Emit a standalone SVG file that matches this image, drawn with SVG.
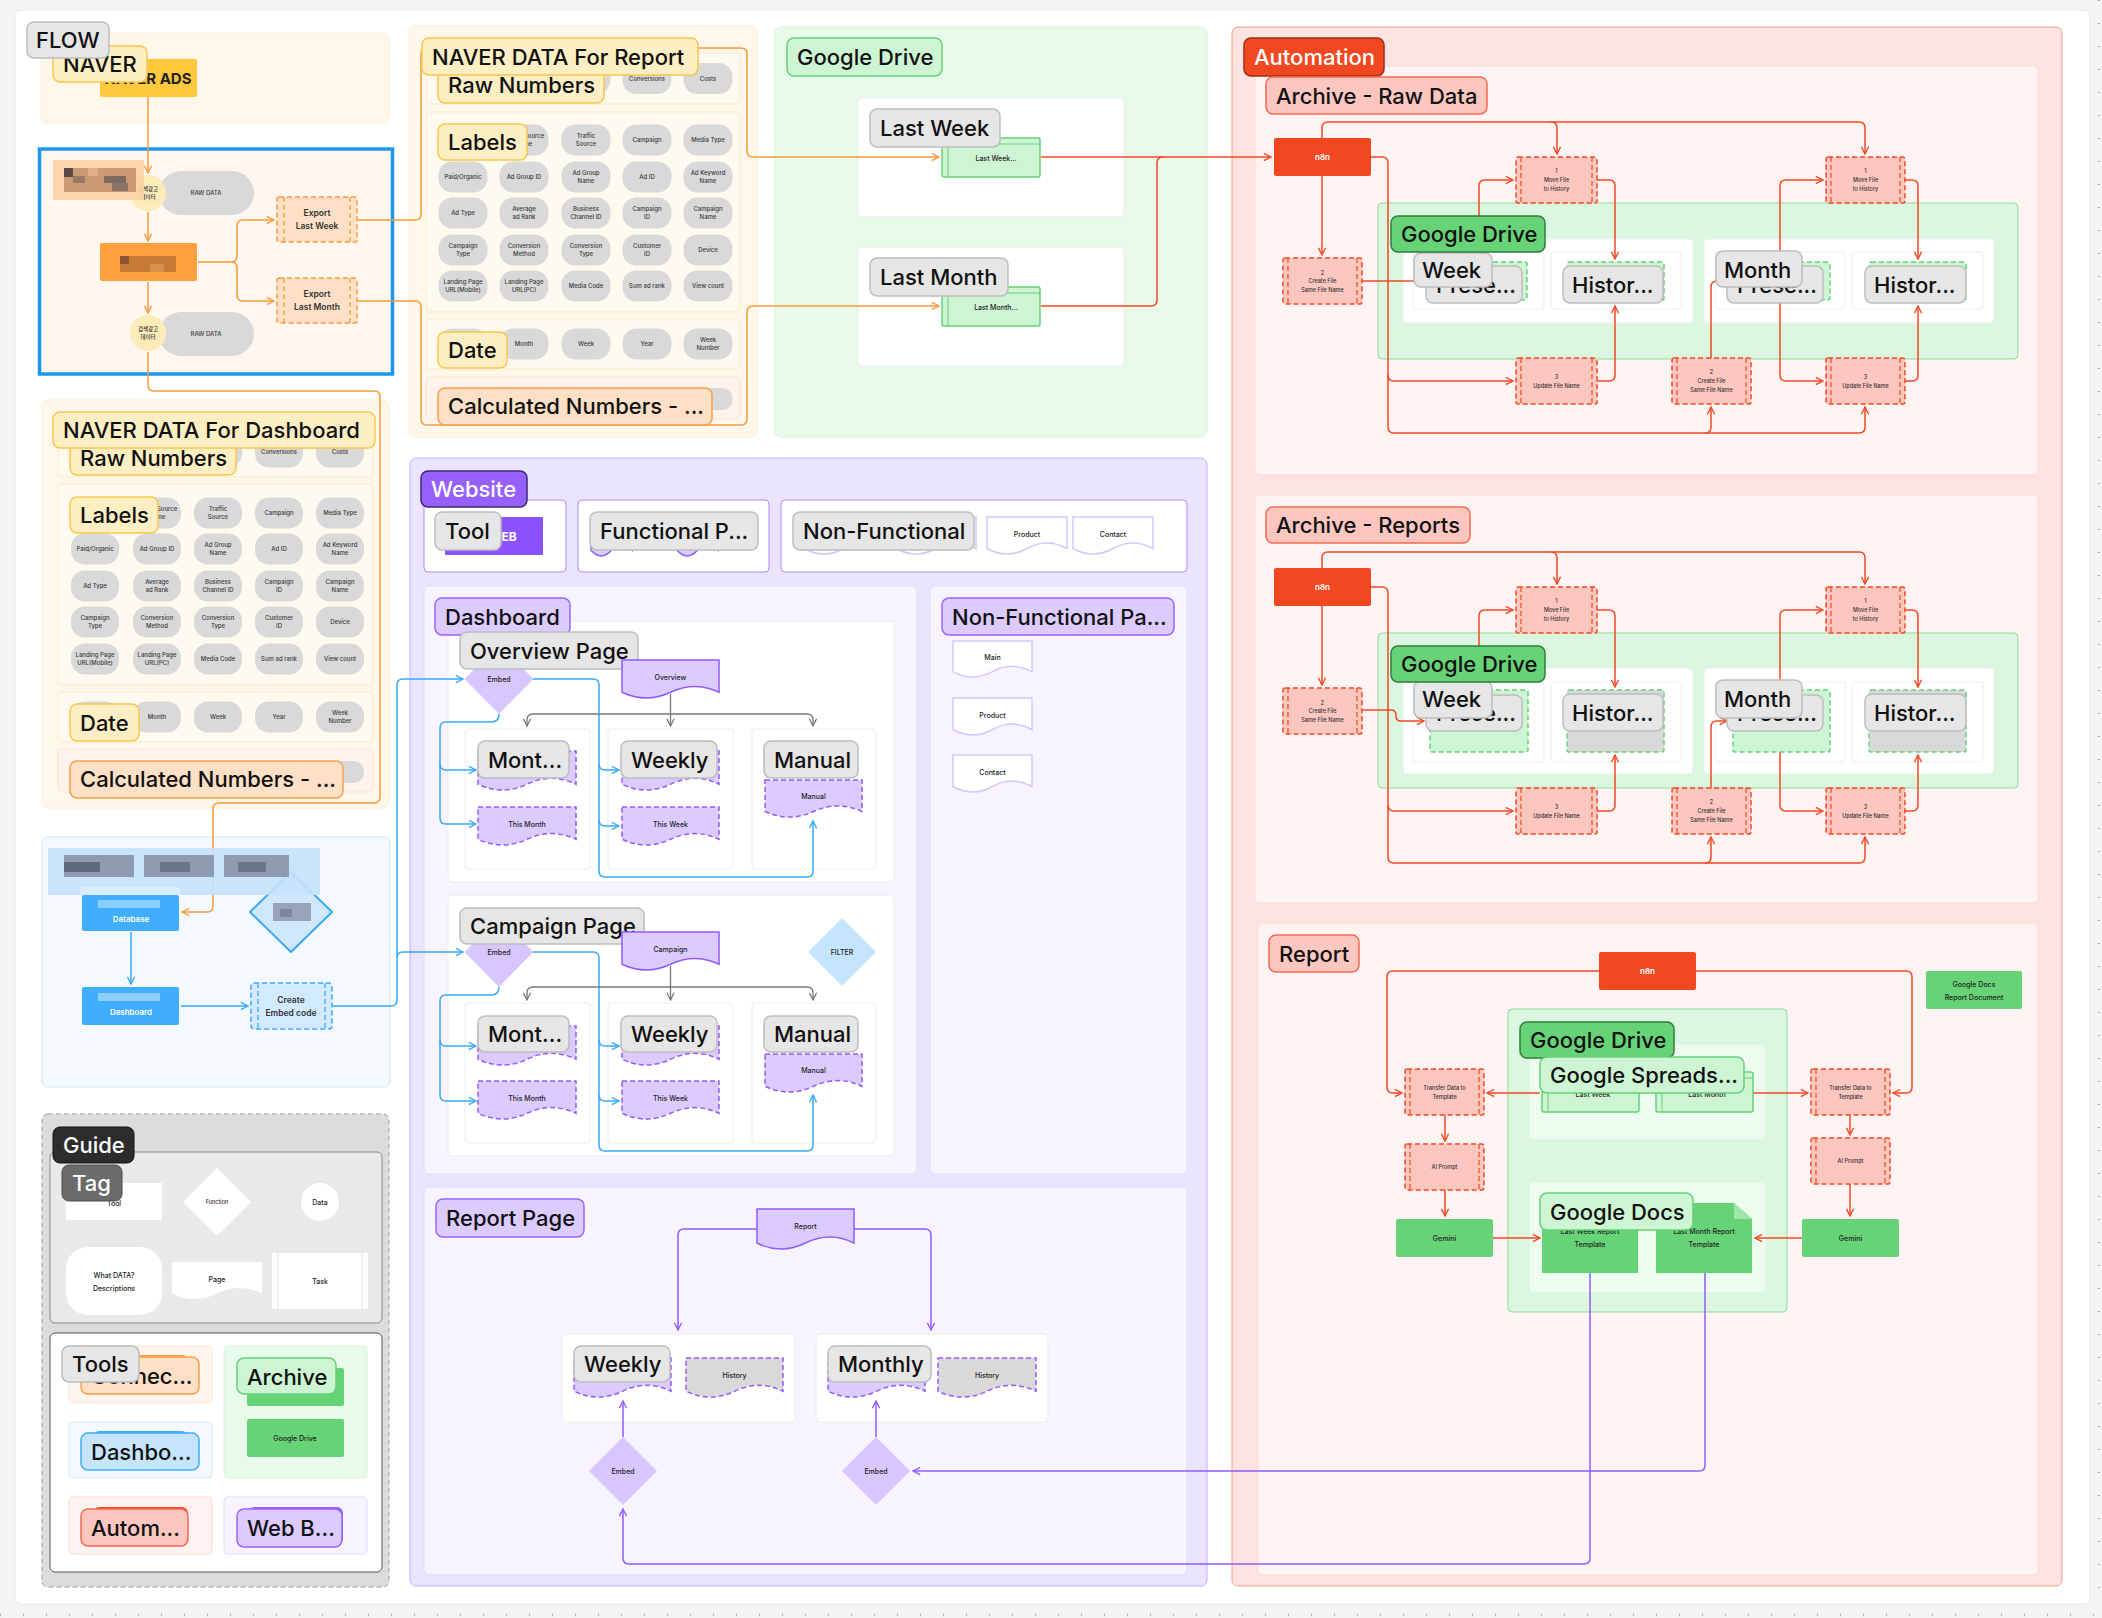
<svg xmlns="http://www.w3.org/2000/svg" width="2102" height="1618" viewBox="0 0 2102 1618">
<defs>
<style>
text{font-family:Inter,"Noto Sans","Liberation Sans","Noto Sans CJK KR",sans-serif}
.L{font-size:22px;font-weight:500;fill:#111}
.W{font-size:22px;font-weight:500;fill:#fff}
.p{fill:#d9d9d9}
.pt{font-size:6px;font-weight:500;fill:#3a3a3a;text-anchor:middle}
.t7{font-size:7px;font-weight:500;fill:#222;text-anchor:middle}
.t8{font-size:8.5px;font-weight:600;fill:#333;text-anchor:middle}
.tw{font-size:8px;font-weight:600;fill:#fff;text-anchor:middle}
.tt{font-size:5.5px;font-weight:500;fill:#333;text-anchor:middle}
.lg{fill:#e6e6e6;stroke:#bdbdbd;stroke-width:1.5}
.ly{fill:#fdefc3;stroke:#f8c84e;stroke-width:1.5}
.lp{fill:#fde0c5;stroke:#f5a04a;stroke-width:1.5}
.lv{fill:#dccbff;stroke:#9966ff;stroke-width:1.5}
.lgl{fill:#cdf5d3;stroke:#66d17a;stroke-width:1.5}
.lgd{fill:#66d377;stroke:#2e7d3a;stroke-width:1.5}
.lrl{fill:#fdc7c0;stroke:#f26a4f;stroke-width:1.5}
.cO{fill:none;stroke:#f89a3a;stroke-width:1.5}
.cR{fill:none;stroke:#f24822;stroke-width:1.5}
.cB{fill:none;stroke:#3aa8f7;stroke-width:1.5}
.cG{fill:none;stroke:#777;stroke-width:1.3}
.cP{fill:none;stroke:#8f5cff;stroke-width:1.5}
.task{fill:#fdc7c0;stroke:#f24822;stroke-width:1.5;stroke-dasharray:5 3}
.tl{fill:none;stroke:#f24822;stroke-width:1.2;stroke-dasharray:5 3}
.exp{fill:#fde0c5;stroke:#f89a3a;stroke-width:1.5;stroke-dasharray:5 3}
.el{fill:none;stroke:#f89a3a;stroke-width:1.2;stroke-dasharray:5 3}
.pg{fill:#dccbff;stroke:#8f5cff;stroke-width:1.5}
.pgd{fill:#dccbff;stroke:#8f5cff;stroke-width:1.5;stroke-dasharray:5 3}
.pgh{fill:#d9d9d9;stroke:#8f5cff;stroke-width:1.5;stroke-dasharray:5 3}
.pgw{fill:#fff;stroke:#d6c6ff;stroke-width:1.5}
.fd{fill:#cdf5d3;stroke:#66d17a;stroke-width:1.5;stroke-dasharray:5 3}
.fg{fill:#d9d9d9;stroke:#66d17a;stroke-width:1.5;stroke-dasharray:5 3}
.wb{fill:#fff;stroke:#ececec}
.sp{fill:#fffaf0;stroke:#fce9c8}
.gr{fill:#66d377}
</style>
<marker id="mO" viewBox="0 0 10 10" refX="9" refY="5" markerWidth="9" markerHeight="9" markerUnits="userSpaceOnUse" orient="auto"><path d="M1 1L9 5L1 9" fill="none" stroke="#f89a3a" stroke-width="1.5"/></marker>
<marker id="mR" viewBox="0 0 10 10" refX="9" refY="5" markerWidth="9" markerHeight="9" markerUnits="userSpaceOnUse" orient="auto"><path d="M1 1L9 5L1 9" fill="none" stroke="#f24822" stroke-width="1.5"/></marker>
<marker id="mB" viewBox="0 0 10 10" refX="9" refY="5" markerWidth="9" markerHeight="9" markerUnits="userSpaceOnUse" orient="auto"><path d="M1 1L9 5L1 9" fill="none" stroke="#3aa8f7" stroke-width="1.5"/></marker>
<marker id="mG" viewBox="0 0 10 10" refX="9" refY="5" markerWidth="9" markerHeight="9" markerUnits="userSpaceOnUse" orient="auto"><path d="M1 1L9 5L1 9" fill="none" stroke="#777" stroke-width="1.4"/></marker>
<marker id="mP" viewBox="0 0 10 10" refX="9" refY="5" markerWidth="9" markerHeight="9" markerUnits="userSpaceOnUse" orient="auto"><path d="M1 1L9 5L1 9" fill="none" stroke="#8f5cff" stroke-width="1.5"/></marker>
</defs>

<g id="background">
<rect width="2102" height="1618" fill="#f4f4f4"/>
<rect x="15" y="10" width="2075" height="1594" rx="6" fill="#fff" stroke="#e9e9e9"/>
<line x1="0" y1="1615" x2="2102" y2="1615" stroke="#b5b5b5" stroke-width="3" stroke-dasharray="1 22"/>
<line x1="2099" y1="0" x2="2099" y2="1604" stroke="#b5b5b5" stroke-width="3" stroke-dasharray="1 22"/>
</g>

<g id="panels">
<rect x="41" y="33" width="348" height="90" rx="6" fill="#fff8ea" stroke="#fdefd3"/>
<rect x="39.5" y="149" width="353" height="225" fill="#fff6ef" stroke="#1a98f0" stroke-width="3.5"/>
<rect x="409" y="26" width="348" height="411" rx="6" fill="#fff8ea" stroke="#fdefd3"/>
<rect class="sp" x="426" y="53" width="314" height="51" rx="4"/>
<rect class="sp" x="426" y="112" width="314" height="200" rx="4"/>
<rect class="sp" x="426" y="319" width="314" height="50" rx="4"/>
<rect x="426" y="377" width="314" height="42" rx="4" fill="#fff3ec" stroke="#fde3cf"/>
<rect x="42" y="400" width="347" height="408" rx="6" fill="#fff8ea" stroke="#fdefd3"/>
<rect class="sp" x="58" y="423" width="315" height="54" rx="4"/>
<rect class="sp" x="58" y="484" width="315" height="201" rx="4"/>
<rect class="sp" x="58" y="692" width="315" height="50" rx="4"/>
<rect x="58" y="749" width="315" height="43" rx="4" fill="#fff3ec" stroke="#fde3cf"/>
<rect x="42" y="837" width="348" height="250" rx="6" fill="#f4f9ff" stroke="#cfe5fb"/>
<rect x="42" y="1114" width="347" height="473" rx="6" fill="#dcdcdc" stroke="#9a9a9a" stroke-dasharray="5 3"/>
<rect x="50" y="1152" width="332" height="171" rx="5" fill="#e9e9e9" stroke="#8a8a8a"/>
<rect x="50" y="1333" width="332" height="239" rx="5" fill="#fff" stroke="#555"/>
<rect x="69" y="1346" width="143" height="57" rx="4" fill="#fff5ee" stroke="#fde3cf"/>
<rect x="69" y="1422" width="143" height="56" rx="4" fill="#f3f9ff" stroke="#d4e8fb"/>
<rect x="69" y="1497" width="143" height="57" rx="4" fill="#fff3f1" stroke="#fcd9d3"/>
<rect x="224" y="1346" width="143" height="132" rx="4" fill="#e8fbea" stroke="#d6f3d9"/>
<rect x="224" y="1497" width="143" height="57" rx="4" fill="#f7f4ff" stroke="#e3d9ff"/>
<rect x="775" y="27" width="432" height="410" rx="6" fill="#e8fbea" stroke="#d6f3d9"/>
<rect class="wb" x="858" y="98" width="266" height="119" rx="4"/>
<rect class="wb" x="858" y="247" width="266" height="119" rx="4"/>
<rect x="410" y="458" width="797" height="1128" rx="6" fill="#ebe4ff" stroke="#c5b1ff"/>
<rect x="424" y="500" width="142" height="72" rx="4" fill="#fff" stroke="#a98bff"/>
<rect x="578" y="500" width="191" height="72" rx="4" fill="#fff" stroke="#a98bff"/>
<rect x="781" y="500" width="406" height="72" rx="4" fill="#fff" stroke="#a98bff"/>
<rect x="424" y="586" width="493" height="588" rx="5" fill="#f7f4ff" stroke="#e3d9ff"/>
<rect x="930" y="586" width="257" height="588" rx="5" fill="#f7f4ff" stroke="#e3d9ff"/>
<rect class="wb" x="448" y="621" width="446" height="261" rx="4"/>
<rect class="wb" x="465" y="729" width="125" height="140" rx="3"/>
<rect class="wb" x="608" y="729" width="125" height="140" rx="3"/>
<rect class="wb" x="752" y="729" width="124" height="140" rx="3"/>
<rect class="wb" x="448" y="895" width="446" height="261" rx="4"/>
<rect class="wb" x="465" y="1003" width="125" height="140" rx="3"/>
<rect class="wb" x="608" y="1003" width="125" height="140" rx="3"/>
<rect class="wb" x="752" y="1003" width="124" height="140" rx="3"/>
<rect x="424" y="1187" width="763" height="388" rx="5" fill="#f7f4ff" stroke="#e3d9ff"/>
<rect class="wb" x="562" y="1334" width="233" height="88" rx="4"/>
<rect class="wb" x="816" y="1334" width="232" height="88" rx="4"/>
<rect x="1232" y="27" width="830" height="1559" rx="6" fill="#fde3e0" stroke="#f59a8c"/>
<rect x="1255" y="66" width="783" height="409" rx="5" fill="#fff4f3" stroke="#fcdad5"/>
<rect x="1378" y="203" width="640" height="156" rx="4" fill="#dcf7df" stroke="#8fdb99"/>
<rect class="wb" x="1403" y="239" width="290" height="84" rx="4"/>
<rect class="wb" x="1704" y="239" width="290" height="84" rx="4"/>
<rect class="wb" x="1413" y="252" width="131" height="57" rx="3"/>
<rect class="wb" x="1551" y="252" width="130" height="57" rx="3"/>
<rect class="wb" x="1715" y="252" width="130" height="57" rx="3"/>
<rect class="wb" x="1852" y="252" width="131" height="57" rx="3"/>
<rect x="1255" y="495" width="783" height="408" rx="5" fill="#fff4f3" stroke="#fcdad5"/>
<rect x="1378" y="633" width="640" height="155" rx="4" fill="#dcf7df" stroke="#8fdb99"/>
<rect class="wb" x="1403" y="668" width="290" height="106" rx="4"/>
<rect class="wb" x="1704" y="668" width="290" height="106" rx="4"/>
<rect class="wb" x="1413" y="682" width="131" height="80" rx="3"/>
<rect class="wb" x="1551" y="682" width="130" height="80" rx="3"/>
<rect class="wb" x="1715" y="682" width="130" height="80" rx="3"/>
<rect class="wb" x="1852" y="682" width="131" height="80" rx="3"/>
<rect x="1258" y="923" width="780" height="652" rx="5" fill="#fff4f3" stroke="#fcdad5"/>
<rect x="1508" y="1009" width="279" height="303" rx="4" fill="#dcf7df" stroke="#8fdb99"/>
<rect x="1529" y="1044" width="237" height="96" rx="4" fill="#ecfdef" stroke="#d8f5dc"/>
<rect x="1529" y="1182" width="237" height="111" rx="4" fill="#ecfdef" stroke="#d8f5dc"/>
</g>

<g id="connectors">
<path class="cO" marker-end="url(#mO)" d="M148 97V173"/>
<path class="cO" marker-end="url(#mO)" d="M148 212V241"/>
<path class="cO" marker-end="url(#mO)" d="M148 282V313"/>
<path class="cO" marker-end="url(#mO)" d="M198 262H231Q237 262 237 256V226Q237 220 243 220H274"/>
<path class="cO" marker-end="url(#mO)" d="M231 262Q237 262 237 268V295Q237 301 243 301H274"/>
<path class="cO" marker-end="url(#mO)" d="M358 220H415Q421 220 421 214V54Q421 48 427 48H741Q747 48 747 54V151Q747 157 753 157H939"/>
<path class="cO" marker-end="url(#mO)" d="M358 301H415Q421 301 421 307V419Q421 425 427 425H741Q747 425 747 419V312Q747 306 753 306H939"/>
<path class="cO" marker-end="url(#mO)" d="M148 352V385Q148 391 154 391H374Q380 391 380 397V797Q380 803 374 803H219Q213 803 213 809V906Q213 912 207 912H182"/>
<path class="cR" marker-end="url(#mR)" d="M1041 157H1271"/>
<path class="cR" d="M1041 306H1151Q1157 306 1157 300V163Q1157 157 1163 157"/>
<path class="cR" marker-end="url(#mR)" d="M1322 138V128Q1322 122 1328 122H1859Q1865 122 1865 128V154"/>
<path class="cR" marker-end="url(#mR)" d="M1551 122Q1557 122 1557 128V154"/>
<path class="cR" marker-end="url(#mR)" d="M1322 176V255"/>
<path class="cR" marker-end="url(#mR)" d="M1371 157H1382Q1388 157 1388 163V427Q1388 433 1394 433H1859Q1865 433 1865 427V407"/>
<path class="cR" marker-end="url(#mR)" d="M1388 375Q1388 381 1394 381H1513"/>
<path class="cR" marker-end="url(#mR)" d="M1705 433Q1711 433 1711 427V407"/>
<path class="cR" d="M1362 281H1414"/>
<path class="cR" marker-end="url(#mR)" d="M1479 216V186Q1479 180 1485 180H1513"/>
<path class="cR" marker-end="url(#mR)" d="M1597 180H1609Q1615 180 1615 186V259"/>
<path class="cR" marker-end="url(#mR)" d="M1597 381H1609Q1615 381 1615 375V306"/>
<path class="cR" marker-end="url(#mR)" d="M1780 251V186Q1780 180 1786 180H1823"/>
<path class="cR" marker-end="url(#mR)" d="M1780 303V375Q1780 381 1786 381H1823"/>
<path class="cR" d="M1711 358V287Q1711 281 1717 281H1727"/>
<path class="cR" marker-end="url(#mR)" d="M1905 180H1912Q1918 180 1918 186V259"/>
<path class="cR" marker-end="url(#mR)" d="M1905 381H1912Q1918 381 1918 375V306"/>
<path class="cR" marker-end="url(#mR)" d="M1322 568V558Q1322 552 1328 552H1859Q1865 552 1865 558V584"/>
<path class="cR" marker-end="url(#mR)" d="M1551 552Q1557 552 1557 558V584"/>
<path class="cR" marker-end="url(#mR)" d="M1322 606V685"/>
<path class="cR" marker-end="url(#mR)" d="M1371 587H1382Q1388 587 1388 593V857Q1388 863 1394 863H1859Q1865 863 1865 857V837"/>
<path class="cR" marker-end="url(#mR)" d="M1388 805Q1388 811 1394 811H1513"/>
<path class="cR" marker-end="url(#mR)" d="M1705 863Q1711 863 1711 857V837"/>
<path class="cR" marker-end="url(#mR)" d="M1363 710H1391Q1396 710 1396 715V716Q1396 721 1401 721H1424"/>
<path class="cR" marker-end="url(#mR)" d="M1479 646V616Q1479 610 1485 610H1513"/>
<path class="cR" marker-end="url(#mR)" d="M1597 610H1609Q1615 610 1615 616V687"/>
<path class="cR" marker-end="url(#mR)" d="M1597 811H1609Q1615 811 1615 805V755"/>
<path class="cR" marker-end="url(#mR)" d="M1780 680V616Q1780 610 1786 610H1823"/>
<path class="cR" marker-end="url(#mR)" d="M1780 752V805Q1780 811 1786 811H1823"/>
<path class="cR" marker-end="url(#mR)" d="M1711 788V727Q1711 721 1717 721H1727"/>
<path class="cR" marker-end="url(#mR)" d="M1905 610H1912Q1918 610 1918 616V687"/>
<path class="cR" marker-end="url(#mR)" d="M1905 811H1912Q1918 811 1918 805V755"/>
<path class="cR" marker-end="url(#mR)" d="M1599 971H1393Q1387 971 1387 977V1087Q1387 1093 1393 1093H1402"/>
<path class="cR" marker-end="url(#mR)" d="M1696 971H1906Q1912 971 1912 977V1087Q1912 1093 1906 1093H1893"/>
<path class="cR" marker-end="url(#mR)" d="M1540 1093H1487"/>
<path class="cR" marker-end="url(#mR)" d="M1753 1093H1808"/>
<path class="cR" marker-end="url(#mR)" d="M1445 1115V1141"/>
<path class="cR" marker-end="url(#mR)" d="M1445 1190V1216"/>
<path class="cR" marker-end="url(#mR)" d="M1850 1115V1135"/>
<path class="cR" marker-end="url(#mR)" d="M1850 1184V1216"/>
<path class="cR" marker-end="url(#mR)" d="M1493 1238H1540"/>
<path class="cR" marker-end="url(#mR)" d="M1802 1238H1755"/>
<path class="cB" marker-end="url(#mB)" d="M131 932V984"/>
<path class="cB" marker-end="url(#mB)" d="M181 1006H248"/>
<path class="cB" marker-end="url(#mB)" d="M333 1006H391Q397 1006 397 1000V685Q397 679 403 679H463"/>
<path class="cB" marker-end="url(#mB)" d="M397 958Q397 952 403 952H463"/>
<path class="cB" marker-end="url(#mB)" d="M499 714Q499 722 491 722H446Q440 722 440 728V818Q440 824 446 824H476"/>
<path class="cB" marker-end="url(#mB)" d="M440 764Q440 770 446 770H476"/>
<path class="cB" marker-end="url(#mB)" d="M533 679H593Q599 679 599 685V871Q599 877 605 877H807Q813 877 813 871V821"/>
<path class="cB" marker-end="url(#mB)" d="M599 764Q599 770 605 770H619"/>
<path class="cB" marker-end="url(#mB)" d="M599 820Q599 826 605 826H619"/>
<path class="cB" marker-end="url(#mB)" d="M499 987Q499 995 491 995H446Q440 995 440 1001V1095Q440 1101 446 1101H476"/>
<path class="cB" marker-end="url(#mB)" d="M440 1040Q440 1046 446 1046H476"/>
<path class="cB" marker-end="url(#mB)" d="M533 952H593Q599 952 599 958V1145Q599 1151 605 1151H807Q813 1151 813 1145V1095"/>
<path class="cB" marker-end="url(#mB)" d="M599 1040Q599 1046 605 1046H619"/>
<path class="cB" marker-end="url(#mB)" d="M599 1095Q599 1101 605 1101H619"/>
<path class="cG" marker-end="url(#mG)" d="M670.5 694V726"/>
<path class="cG" marker-end="url(#mG)" d="M670.5 714H533Q527 714 527 720V726"/>
<path class="cG" marker-end="url(#mG)" d="M670.5 714H807Q813 714 813 720V726"/>
<path class="cG" marker-end="url(#mG)" d="M670.5 966V1000"/>
<path class="cG" marker-end="url(#mG)" d="M670.5 987H533Q527 987 527 993V1000"/>
<path class="cG" marker-end="url(#mG)" d="M670.5 987H807Q813 987 813 993V1000"/>
<path class="cP" marker-end="url(#mP)" d="M757 1229H684Q678 1229 678 1235V1330"/>
<path class="cP" marker-end="url(#mP)" d="M854 1229H925Q931 1229 931 1235V1330"/>
<path class="cP" marker-end="url(#mP)" d="M623 1437V1401"/>
<path class="cP" marker-end="url(#mP)" d="M876 1437V1401"/>
<path class="cP" marker-end="url(#mP)" d="M1705 1273V1465Q1705 1471 1699 1471H913"/>
<path class="cP" marker-end="url(#mP)" d="M1590 1273V1558Q1590 1564 1584 1564H629Q623 1564 623 1558V1509"/>
</g>

<g id="flow-naver">
<g id="naver-ads"><rect x="100" y="59" width="97" height="38" rx="2" fill="#ffc83d"/><text x="148" y="84" font-size="15" font-weight="700" fill="#222" text-anchor="middle">NAVER ADS</text></g>
<g id="naver-label"><rect class="ly" x="53" y="46" width="94" height="36" rx="7"/><text class="L" x="63" y="72">NAVER</text></g>
<g id="flow-label"><rect class="lg" x="27" y="22" width="82" height="36" rx="7"/><text class="L" x="36" y="48">FLOW</text></g>
<g id="raw-data-1"><rect class="p" x="159" y="171" width="95" height="44" rx="22"/><text class="pt" x="206" y="195">RAW DATA</text></g>
<g id="data-circle-1"><circle cx="148" cy="193" r="18" fill="#fdecb8"/><text class="tt" x="148" y="191">검색광고</text><text class="tt" x="148" y="199">데이터</text></g>
<g id="mosaic-1"><rect x="53" y="160" width="91" height="40" fill="#fbd3a5" opacity="0.92"/><rect x="64" y="168" width="72" height="24" fill="#c99a74"/><rect x="64" y="168" width="9" height="9" fill="#5a4a44"/><rect x="73" y="176" width="12" height="7" fill="#9a7a66"/><rect x="104" y="176" width="22" height="7" fill="#7d6a62"/><rect x="112" y="183" width="16" height="8" fill="#8b7366"/><rect x="88" y="168" width="10" height="8" fill="#e0b088"/></g>
<g id="orange-node"><rect x="100" y="243" width="97" height="38" rx="2" fill="#ffa040"/><rect x="120" y="256" width="56" height="16" fill="#c67a36"/><rect x="120" y="256" width="9" height="8" fill="#8e5436"/><rect x="150" y="264" width="14" height="8" fill="#d89050"/></g>
<g id="raw-data-2"><rect class="p" x="159" y="312" width="95" height="44" rx="22"/><text class="pt" x="206" y="336">RAW DATA</text></g>
<g id="data-circle-2"><circle cx="148" cy="333" r="18" fill="#fdecb8"/><text class="tt" x="148" y="331">검색광고</text><text class="tt" x="148" y="339">데이터</text></g>
<g id="export-last-week"><rect class="exp" x="277" y="197" width="80" height="45" rx="2"/><path class="el" d="M284 197V242M350 197V242"/><text class="t8" x="317" y="216">Export</text><text class="t8" x="317" y="229">Last Week</text></g>
<g id="export-last-month"><rect class="exp" x="277" y="278" width="80" height="45" rx="2"/><path class="el" d="M284 278V323M350 278V323"/><text class="t8" x="317" y="297">Export</text><text class="t8" x="317" y="310">Last Month</text></g>
</g>

<g id="naver-data-report">
<g id="r-raw">
<rect class="p" x="438.5" y="63" width="49" height="31" rx="14"/><rect class="p" x="499.5" y="63" width="49" height="31" rx="14"/><rect class="p" x="561.5" y="63" width="49" height="31" rx="14"/>
<rect class="p" x="622.5" y="63" width="49" height="31" rx="14"/><text class="pt" x="647" y="80.5">Conversions</text>
<rect class="p" x="683.5" y="63" width="49" height="31" rx="14"/><text class="pt" x="708" y="80.5">Costs</text>
</g>
<g id="r-labels">
<rect class="p" x="438.5" y="124.5" width="49" height="31" rx="14"/>
<rect class="p" x="499.5" y="124.5" width="49" height="31" rx="14"/><text class="pt" x="524" y="137.5">Traffic Source</text><text class="pt" x="524" y="145.5">Name</text>
<rect class="p" x="561.5" y="124.5" width="49" height="31" rx="14"/><text class="pt" x="586" y="137.5">Traffic</text><text class="pt" x="586" y="145.5">Source</text>
<rect class="p" x="622.5" y="124.5" width="49" height="31" rx="14"/><text class="pt" x="647" y="142">Campaign</text>
<rect class="p" x="683.5" y="124.5" width="49" height="31" rx="14"/><text class="pt" x="708" y="142">Media Type</text>
<rect class="p" x="438.5" y="161.5" width="49" height="31" rx="14"/><text class="pt" x="463" y="179">Paid/Organic</text>
<rect class="p" x="499.5" y="161.5" width="49" height="31" rx="14"/><text class="pt" x="524" y="179">Ad Group ID</text>
<rect class="p" x="561.5" y="161.5" width="49" height="31" rx="14"/><text class="pt" x="586" y="174.5">Ad Group</text><text class="pt" x="586" y="182.5">Name</text>
<rect class="p" x="622.5" y="161.5" width="49" height="31" rx="14"/><text class="pt" x="647" y="179">Ad ID</text>
<rect class="p" x="683.5" y="161.5" width="49" height="31" rx="14"/><text class="pt" x="708" y="174.5">Ad Keyword</text><text class="pt" x="708" y="182.5">Name</text>
<rect class="p" x="438.5" y="197.5" width="49" height="31" rx="14"/><text class="pt" x="463" y="215">Ad Type</text>
<rect class="p" x="499.5" y="197.5" width="49" height="31" rx="14"/><text class="pt" x="524" y="210.5">Average</text><text class="pt" x="524" y="218.5">ad Rank</text>
<rect class="p" x="561.5" y="197.5" width="49" height="31" rx="14"/><text class="pt" x="586" y="210.5">Business</text><text class="pt" x="586" y="218.5">Channel ID</text>
<rect class="p" x="622.5" y="197.5" width="49" height="31" rx="14"/><text class="pt" x="647" y="210.5">Campaign</text><text class="pt" x="647" y="218.5">ID</text>
<rect class="p" x="683.5" y="197.5" width="49" height="31" rx="14"/><text class="pt" x="708" y="210.5">Campaign</text><text class="pt" x="708" y="218.5">Name</text>
<rect class="p" x="438.5" y="234.5" width="49" height="31" rx="14"/><text class="pt" x="463" y="247.5">Campaign</text><text class="pt" x="463" y="255.5">Type</text>
<rect class="p" x="499.5" y="234.5" width="49" height="31" rx="14"/><text class="pt" x="524" y="247.5">Conversion</text><text class="pt" x="524" y="255.5">Method</text>
<rect class="p" x="561.5" y="234.5" width="49" height="31" rx="14"/><text class="pt" x="586" y="247.5">Conversion</text><text class="pt" x="586" y="255.5">Type</text>
<rect class="p" x="622.5" y="234.5" width="49" height="31" rx="14"/><text class="pt" x="647" y="247.5">Customer</text><text class="pt" x="647" y="255.5">ID</text>
<rect class="p" x="683.5" y="234.5" width="49" height="31" rx="14"/><text class="pt" x="708" y="252">Device</text>
<rect class="p" x="438.5" y="270.5" width="49" height="31" rx="14"/><text class="pt" x="463" y="283.5">Landing Page</text><text class="pt" x="463" y="291.5">URL(Mobile)</text>
<rect class="p" x="499.5" y="270.5" width="49" height="31" rx="14"/><text class="pt" x="524" y="283.5">Landing Page</text><text class="pt" x="524" y="291.5">URL(PC)</text>
<rect class="p" x="561.5" y="270.5" width="49" height="31" rx="14"/><text class="pt" x="586" y="288">Media Code</text>
<rect class="p" x="622.5" y="270.5" width="49" height="31" rx="14"/><text class="pt" x="647" y="288">Sum ad rank</text>
<rect class="p" x="683.5" y="270.5" width="49" height="31" rx="14"/><text class="pt" x="708" y="288">View count</text>
</g>
<g id="r-date">
<rect class="p" x="438.5" y="328.5" width="49" height="31" rx="14"/>
<rect class="p" x="499.5" y="328.5" width="49" height="31" rx="14"/><text class="pt" x="524" y="346">Month</text>
<rect class="p" x="561.5" y="328.5" width="49" height="31" rx="14"/><text class="pt" x="586" y="346">Week</text>
<rect class="p" x="622.5" y="328.5" width="49" height="31" rx="14"/><text class="pt" x="647" y="346">Year</text>
<rect class="p" x="683.5" y="328.5" width="49" height="31" rx="14"/><text class="pt" x="708" y="341.5">Week</text><text class="pt" x="708" y="349.5">Number</text>
</g>
<g id="r-calc"><rect class="p" x="622.5" y="388" width="49" height="22" rx="10"/><rect class="p" x="683.5" y="388" width="49" height="22" rx="10"/></g>
<g id="r-label-raw"><rect class="ly" x="438" y="62" width="166" height="41" rx="7"/><text class="L" x="448" y="93">Raw Numbers</text></g>
<g id="r-label-main"><rect class="ly" x="422" y="38" width="276" height="37" rx="7"/><text class="L" x="432" y="65">NAVER DATA For Report</text></g>
<g id="r-label-labels"><rect class="ly" x="438" y="124" width="89" height="36" rx="7"/><text class="L" x="448" y="150">Labels</text></g>
<g id="r-label-date"><rect class="ly" x="438" y="332" width="69" height="36" rx="7"/><text class="L" x="448" y="358">Date</text></g>
<g id="r-label-calc"><rect class="lp" x="438" y="388" width="274" height="37" rx="7"/><text class="L" x="448" y="414">Calculated Numbers - ...</text></g>
</g>

<g id="naver-data-dashboard">
<g id="d-raw">
<rect class="p" x="71" y="436.5" width="48" height="31" rx="14"/><rect class="p" x="133" y="436.5" width="48" height="31" rx="14"/><rect class="p" x="194" y="436.5" width="48" height="31" rx="14"/>
<rect class="p" x="255" y="436.5" width="48" height="31" rx="14"/><text class="pt" x="279" y="454">Conversions</text>
<rect class="p" x="316" y="436.5" width="48" height="31" rx="14"/><text class="pt" x="340" y="454">Costs</text>
</g>
<g id="d-labels">
<rect class="p" x="71" y="497.5" width="48" height="31" rx="14"/>
<rect class="p" x="133" y="497.5" width="48" height="31" rx="14"/><text class="pt" x="157" y="510.5">Traffic Source</text><text class="pt" x="157" y="518.5">Name</text>
<rect class="p" x="194" y="497.5" width="48" height="31" rx="14"/><text class="pt" x="218" y="510.5">Traffic</text><text class="pt" x="218" y="518.5">Source</text>
<rect class="p" x="255" y="497.5" width="48" height="31" rx="14"/><text class="pt" x="279" y="515">Campaign</text>
<rect class="p" x="316" y="497.5" width="48" height="31" rx="14"/><text class="pt" x="340" y="515">Media Type</text>
<rect class="p" x="71" y="533.5" width="48" height="31" rx="14"/><text class="pt" x="95" y="551">Paid/Organic</text>
<rect class="p" x="133" y="533.5" width="48" height="31" rx="14"/><text class="pt" x="157" y="551">Ad Group ID</text>
<rect class="p" x="194" y="533.5" width="48" height="31" rx="14"/><text class="pt" x="218" y="546.5">Ad Group</text><text class="pt" x="218" y="554.5">Name</text>
<rect class="p" x="255" y="533.5" width="48" height="31" rx="14"/><text class="pt" x="279" y="551">Ad ID</text>
<rect class="p" x="316" y="533.5" width="48" height="31" rx="14"/><text class="pt" x="340" y="546.5">Ad Keyword</text><text class="pt" x="340" y="554.5">Name</text>
<rect class="p" x="71" y="570.5" width="48" height="31" rx="14"/><text class="pt" x="95" y="588">Ad Type</text>
<rect class="p" x="133" y="570.5" width="48" height="31" rx="14"/><text class="pt" x="157" y="583.5">Average</text><text class="pt" x="157" y="591.5">ad Rank</text>
<rect class="p" x="194" y="570.5" width="48" height="31" rx="14"/><text class="pt" x="218" y="583.5">Business</text><text class="pt" x="218" y="591.5">Channel ID</text>
<rect class="p" x="255" y="570.5" width="48" height="31" rx="14"/><text class="pt" x="279" y="583.5">Campaign</text><text class="pt" x="279" y="591.5">ID</text>
<rect class="p" x="316" y="570.5" width="48" height="31" rx="14"/><text class="pt" x="340" y="583.5">Campaign</text><text class="pt" x="340" y="591.5">Name</text>
<rect class="p" x="71" y="606.5" width="48" height="31" rx="14"/><text class="pt" x="95" y="619.5">Campaign</text><text class="pt" x="95" y="627.5">Type</text>
<rect class="p" x="133" y="606.5" width="48" height="31" rx="14"/><text class="pt" x="157" y="619.5">Conversion</text><text class="pt" x="157" y="627.5">Method</text>
<rect class="p" x="194" y="606.5" width="48" height="31" rx="14"/><text class="pt" x="218" y="619.5">Conversion</text><text class="pt" x="218" y="627.5">Type</text>
<rect class="p" x="255" y="606.5" width="48" height="31" rx="14"/><text class="pt" x="279" y="619.5">Customer</text><text class="pt" x="279" y="627.5">ID</text>
<rect class="p" x="316" y="606.5" width="48" height="31" rx="14"/><text class="pt" x="340" y="624">Device</text>
<rect class="p" x="71" y="643.5" width="48" height="31" rx="14"/><text class="pt" x="95" y="656.5">Landing Page</text><text class="pt" x="95" y="664.5">URL(Mobile)</text>
<rect class="p" x="133" y="643.5" width="48" height="31" rx="14"/><text class="pt" x="157" y="656.5">Landing Page</text><text class="pt" x="157" y="664.5">URL(PC)</text>
<rect class="p" x="194" y="643.5" width="48" height="31" rx="14"/><text class="pt" x="218" y="661">Media Code</text>
<rect class="p" x="255" y="643.5" width="48" height="31" rx="14"/><text class="pt" x="279" y="661">Sum ad rank</text>
<rect class="p" x="316" y="643.5" width="48" height="31" rx="14"/><text class="pt" x="340" y="661">View count</text>
</g>
<g id="d-date">
<rect class="p" x="71" y="701.5" width="48" height="31" rx="14"/>
<rect class="p" x="133" y="701.5" width="48" height="31" rx="14"/><text class="pt" x="157" y="719">Month</text>
<rect class="p" x="194" y="701.5" width="48" height="31" rx="14"/><text class="pt" x="218" y="719">Week</text>
<rect class="p" x="255" y="701.5" width="48" height="31" rx="14"/><text class="pt" x="279" y="719">Year</text>
<rect class="p" x="316" y="701.5" width="48" height="31" rx="14"/><text class="pt" x="340" y="714.5">Week</text><text class="pt" x="340" y="722.5">Number</text>
</g>
<g id="d-calc"><rect class="p" x="255" y="761" width="48" height="22" rx="10"/><rect class="p" x="316" y="761" width="48" height="22" rx="10"/></g>
<g id="d-label-raw"><rect class="ly" x="70" y="436" width="166" height="39" rx="7"/><text class="L" x="80" y="466">Raw Numbers</text></g>
<g id="d-label-main"><rect class="ly" x="53" y="412" width="322" height="36" rx="7"/><text class="L" x="63" y="438">NAVER DATA For Dashboard</text></g>
<g id="d-label-labels"><rect class="ly" x="70" y="497" width="88" height="36" rx="7"/><text class="L" x="80" y="523">Labels</text></g>
<g id="d-label-date"><rect class="ly" x="70" y="704" width="69" height="37" rx="7"/><text class="L" x="80" y="731">Date</text></g>
<g id="d-label-calc"><rect class="lp" x="70" y="761" width="273" height="37" rx="7"/><text class="L" x="80" y="787">Calculated Numbers - ...</text></g>
</g>

<g id="dashboard-tool">
<g id="database"><rect x="82" y="895" width="97" height="36" rx="2" fill="#40aefc"/><rect x="98" y="900" width="62" height="8" fill="#8ccfff"/><text class="tw" x="131" y="922">Database</text></g>
<g id="dashboard-node"><rect x="82" y="987" width="97" height="38" rx="2" fill="#40aefc"/><rect x="98" y="993" width="62" height="8" fill="#8ccfff"/><text class="tw" x="131" y="1015">Dashboard</text></g>
<g id="blue-diamond"><polygon points="291,872 332,912 291,952 250,912" fill="#cfe8ff" stroke="#3aa8f7" stroke-width="2" stroke-linejoin="round"/><rect x="273" y="903" width="38" height="18" fill="#9aa4b8"/><rect x="280" y="909" width="12" height="8" fill="#7d879c"/></g>
<g id="mosaic-2"><rect x="48" y="848" width="272" height="47" fill="#c5e2fb" opacity="0.92"/><rect x="64" y="855" width="70" height="22" fill="#8f9bb0"/><rect x="64" y="862" width="36" height="10" fill="#5f6a80"/><rect x="144" y="855" width="70" height="22" fill="#8f9bb0"/><rect x="160" y="862" width="30" height="10" fill="#6c768b"/><rect x="224" y="855" width="65" height="22" fill="#8f9bb0"/><rect x="238" y="862" width="28" height="10" fill="#6c768b"/><rect x="80" y="887" width="100" height="8" fill="#d8ecfc"/></g>
<g id="create-embed"><rect x="251" y="983" width="81" height="46" rx="3" fill="#d2eaff" stroke="#3aa8f7" stroke-width="1.5" stroke-dasharray="5 3"/><path d="M258 983V1029M325 983V1029" fill="none" stroke="#3aa8f7" stroke-width="1.2" stroke-dasharray="5 3"/><text class="t8" x="291" y="1003">Create</text><text class="t8" x="291" y="1016">Embed code</text></g>
</g>

<g id="guide">
<g id="guide-tool"><rect x="66" y="1183" width="96" height="37" fill="#fff"/><text class="t7" x="114" y="1206">Tool</text></g>
<g id="guide-function"><polygon points="217,1168 251,1202 217,1236 183,1202" fill="#fff"/><text class="tt" x="217" y="1204">Function</text></g>
<g id="guide-data"><circle cx="320" cy="1202" r="19" fill="#fff"/><text class="t7" x="320" y="1205">Data</text></g>
<g id="guide-desc"><rect x="66" y="1247" width="96" height="68" rx="22" fill="#fff"/><text class="t7" x="114" y="1278" font-weight="600">What DATA?</text><text class="t7" x="114" y="1291" font-weight="600">Descriptions</text></g>
<g id="guide-page"><path d="M172 1262H262V1293.5Q239.5 1282.4 217 1293.5T172 1293.5Z" fill="#fff"/><text class="t7" x="217" y="1282">Page</text></g>
<g id="guide-task"><rect x="272" y="1253" width="96" height="56" fill="#fff"/><path d="M278 1253V1309M362 1253V1309" stroke="#e0e0e0"/><text class="t7" x="320" y="1284">Task</text></g>
<g id="guide-label"><rect x="53" y="1127" width="81" height="36" rx="7" fill="#2c2c2c" stroke="#111"/><text class="W" x="63" y="1153">Guide</text></g>
<g id="tag-label"><rect x="62" y="1165" width="60" height="36" rx="7" fill="#6b6b6b" stroke="#4d4d4d"/><text class="W" x="72" y="1191">Tag</text></g>
<g id="tool-connec"><rect x="93" y="1355" width="95" height="36" rx="6" fill="#f9a03f"/><rect class="lp" x="81" y="1357" width="118" height="37" rx="7"/><text class="L" x="91" y="1384">Connec...</text></g>
<g id="tools-label"><rect class="lg" x="62" y="1346" width="77" height="36" rx="7"/><text class="L" x="72" y="1372">Tools</text></g>
<g id="tool-dashbo"><rect x="93" y="1431" width="95" height="36" rx="6" fill="#40aefc"/><rect x="81" y="1433" width="118" height="37" rx="7" fill="#c5e5ff" stroke="#40aefc" stroke-width="1.5"/><text class="L" x="91" y="1460">Dashbo...</text></g>
<g id="tool-autom"><rect x="93" y="1507" width="95" height="37" rx="6" fill="#f24822"/><rect class="lrl" x="81" y="1509" width="107" height="37" rx="7"/><text class="L" x="91" y="1536">Autom...</text></g>
<g id="tool-archive"><rect class="gr" x="247" y="1368" width="97" height="38" rx="2"/><rect class="lgl" x="237" y="1358" width="99" height="36" rx="7"/><text class="L" x="247" y="1385">Archive</text></g>
<g id="tool-gdrive"><rect class="gr" x="247" y="1419" width="97" height="38" rx="2"/><text class="t7" x="295" y="1441" fill="#1d3a20">Google Drive</text></g>
<g id="tool-web"><rect x="248" y="1507" width="95" height="37" rx="6" fill="#9660ff"/><rect class="lv" x="237" y="1509" width="105" height="38" rx="7"/><text class="L" x="247" y="1536">Web B...</text></g>
</g>

<g id="google-drive-top">
<g id="gd-label"><rect class="lgl" x="787" y="38" width="155" height="38" rx="7"/><text class="L" x="797" y="65">Google Drive</text></g>
<g id="lw-folder"><rect x="942" y="138" width="98" height="39" rx="2" fill="#cdf5d3" stroke="#66d17a" stroke-width="1.5"/><path d="M948 144V177M948 144H1040" stroke="#66d17a" fill="none"/><text class="t7" x="996" y="161">Last Week...</text></g>
<g id="lw-label"><rect class="lg" x="870" y="109" width="130" height="38" rx="7"/><text class="L" x="880" y="136">Last Week</text></g>
<g id="lm-folder"><rect x="942" y="287" width="98" height="39" rx="2" fill="#cdf5d3" stroke="#66d17a" stroke-width="1.5"/><path d="M948 293V326M948 293H1040" stroke="#66d17a" fill="none"/><text class="t7" x="996" y="310">Last Month...</text></g>
<g id="lm-label"><rect class="lg" x="870" y="258" width="138" height="38" rx="7"/><text class="L" x="880" y="285">Last Month</text></g>
</g>

<g id="website">
<g id="website-label"><rect x="421" y="471" width="106" height="36" rx="7" fill="#9660ff" stroke="#3c2a70" stroke-width="1.5"/><text class="W" x="431" y="497">Website</text></g>
<g id="web-tool"><rect x="445" y="517" width="98" height="38" fill="#8c52ff"/><text x="489" y="541" font-size="12" font-weight="700" fill="#fff">WEB</text></g>
<g id="tool-label"><rect class="lg" x="435" y="512" width="66" height="38" rx="7"/><text class="L" x="445" y="539">Tool</text></g>
<g id="func-pages"><path class="pg" d="M591 518H632V550.3Q621.75 538.9 611.5 550.3T591 550.3Z"/><path class="pg" d="M677 518H718V550.3Q707.75 538.9 697.5 550.3T677 550.3Z"/></g>
<g id="func-label"><rect class="lg" x="590" y="512" width="168" height="38" rx="7"/><text class="L" x="600" y="539">Functional P...</text></g>
<g id="nf-pages"><path class="pgw" d="M804 517H884V548.5Q864 537.4 844 548.5T804 548.5Z"/><path class="pgw" d="M896 517H976V548.5Q956 537.4 936 548.5T896 548.5Z"/></g>
<g id="nf-product"><path class="pgw" d="M987 517H1067V548.5Q1047 537.4 1027 548.5T987 548.5Z"/><text class="t7" x="1027" y="537">Product</text></g>
<g id="nf-contact"><path class="pgw" d="M1073 517H1153V548.5Q1133 537.4 1113 548.5T1073 548.5Z"/><text class="t7" x="1113" y="537">Contact</text></g>
<g id="nf-label"><rect class="lg" x="793" y="512" width="181" height="38" rx="7"/><text class="L" x="803" y="539">Non-Functional</text></g>

<g id="dashboard-label"><rect class="lv" x="435" y="598" width="135" height="37" rx="7"/><text class="L" x="445" y="625">Dashboard</text></g>
<g id="ov-embed"><polygon points="499,644 533.5,679 499,714 464.5,679" fill="#d8c6ff"/><text class="t7" x="499" y="682">Embed</text></g>
<g id="ov-label"><rect class="lg" x="460" y="632" width="178" height="37" rx="7"/><text class="L" x="470" y="659">Overview Page</text></g>
<g id="ov-page"><path class="pg" d="M622 660H719V692.3Q694.75 680.9 670.5 692.3T622 692.3Z"/><text class="t7" x="670.5" y="680">Overview</text></g>
<g id="ov-monthly"><path class="pgd" d="M478 751H576V784.2Q551.5 772.5 527 784.2T478 784.2Z"/><rect class="lg" x="478" y="741" width="91" height="37" rx="7"/><text class="L" x="488" y="768">Mont...</text></g>
<g id="ov-thismonth"><path class="pgd" d="M478 807H576V839.3Q551.5 827.9 527 839.3T478 839.3Z"/><text class="t7" x="527" y="827">This Month</text></g>
<g id="ov-weekly"><path class="pgd" d="M622 751H719V784.2Q694.75 772.5 670.5 784.2T622 784.2Z"/><rect class="lg" x="621" y="741" width="96" height="37" rx="7"/><text class="L" x="631" y="768">Weekly</text></g>
<g id="ov-thisweek"><path class="pgd" d="M622 807H719V839.3Q694.75 827.9 670.5 839.3T622 839.3Z"/><text class="t7" x="670.5" y="827">This Week</text></g>
<g id="ov-manual"><path class="pgd" d="M765 780H862V811.5Q837.75 800.4 813.5 811.5T765 811.5Z"/><text class="t7" x="813.5" y="799">Manual</text><rect class="lg" x="764" y="741" width="94" height="37" rx="7"/><text class="L" x="774" y="768">Manual</text></g>

<g id="cp-embed"><polygon points="499,917 533.5,952 499,987 464.5,952" fill="#d8c6ff"/><text class="t7" x="499" y="955">Embed</text></g>
<g id="cp-label"><rect class="lg" x="460" y="908" width="184" height="36" rx="7"/><text class="L" x="470" y="934">Campaign Page</text></g>
<g id="cp-page"><path class="pg" d="M622 932H719V964.3Q694.75 952.9 670.5 964.3T622 964.3Z"/><text class="t7" x="670.5" y="952">Campaign</text></g>
<g id="cp-filter"><polygon points="842,918 876,952 842,986 808,952" fill="#c5e5ff"/><text class="t7" x="842" y="955">FILTER</text></g>
<g id="cp-monthly"><path class="pgd" d="M478 1026H576V1059.2Q551.5 1047.5 527 1059.2T478 1059.2Z"/><rect class="lg" x="478" y="1016" width="91" height="36" rx="7"/><text class="L" x="488" y="1042">Mont...</text></g>
<g id="cp-thismonth"><path class="pgd" d="M478 1081H576V1113.3Q551.5 1101.9 527 1113.3T478 1113.3Z"/><text class="t7" x="527" y="1101">This Month</text></g>
<g id="cp-weekly"><path class="pgd" d="M622 1026H719V1059.2Q694.75 1047.5 670.5 1059.2T622 1059.2Z"/><rect class="lg" x="621" y="1016" width="96" height="36" rx="7"/><text class="L" x="631" y="1042">Weekly</text></g>
<g id="cp-thisweek"><path class="pgd" d="M622 1081H719V1113.3Q694.75 1101.9 670.5 1113.3T622 1113.3Z"/><text class="t7" x="670.5" y="1101">This Week</text></g>
<g id="cp-manual"><path class="pgd" d="M765 1054H862V1086.3Q837.75 1074.9 813.5 1086.3T765 1086.3Z"/><text class="t7" x="813.5" y="1073">Manual</text><rect class="lg" x="764" y="1016" width="94" height="36" rx="7"/><text class="L" x="774" y="1042">Manual</text></g>

<g id="nfp-label"><rect class="lv" x="942" y="598" width="232" height="37" rx="7"/><text class="L" x="952" y="625">Non-Functional Pa...</text></g>
<g id="nfp-main"><path class="pgw" d="M953 641H1032V671.6Q1012.25 660.8 992.5 671.6T953 671.6Z"/><text class="t7" x="992.5" y="660">Main</text></g>
<g id="nfp-product"><path class="pgw" d="M953 698H1032V729.5Q1012.25 718.4 992.5 729.5T953 729.5Z"/><text class="t7" x="992.5" y="718">Product</text></g>
<g id="nfp-contact"><path class="pgw" d="M953 755H1032V786.5Q1012.25 775.4 992.5 786.5T953 786.5Z"/><text class="t7" x="992.5" y="775">Contact</text></g>

<g id="rp-label"><rect class="lv" x="436" y="1199" width="148" height="38" rx="7"/><text class="L" x="446" y="1226">Report Page</text></g>
<g id="rp-report"><path class="pg" d="M757 1209H854V1243Q829.75 1231 805.5 1243T757 1243Z"/><text class="t7" x="805.5" y="1229">Report</text></g>
<g id="rp-weekly"><path class="pgd" d="M574 1358H671V1391.2Q646.75 1379.5 622.5 1391.2T574 1391.2Z"/><rect class="lg" x="574" y="1346" width="96" height="36" rx="7"/><text class="L" x="584" y="1372">Weekly</text></g>
<g id="rp-history-w"><path class="pgh" d="M686 1358H783V1391.2Q758.75 1379.5 734.5 1391.2T686 1391.2Z"/><text class="t7" x="734.5" y="1378">History</text></g>
<g id="rp-monthly"><path class="pgd" d="M828 1358H925V1391.2Q900.75 1379.5 876.5 1391.2T828 1391.2Z"/><rect class="lg" x="828" y="1346" width="103" height="36" rx="7"/><text class="L" x="838" y="1372">Monthly</text></g>
<g id="rp-history-m"><path class="pgh" d="M938 1358H1036V1391.2Q1011.5 1379.5 987 1391.2T938 1391.2Z"/><text class="t7" x="987" y="1378">History</text></g>
<g id="rp-embed-w"><polygon points="623,1437 657,1471 623,1505 589,1471" fill="#d8c6ff"/><text class="t7" x="623" y="1474">Embed</text></g>
<g id="rp-embed-m"><polygon points="876,1437 910,1471 876,1505 842,1471" fill="#d8c6ff"/><text class="t7" x="876" y="1474">Embed</text></g>
</g>

<g id="automation">
<g id="automation-label"><rect x="1244" y="38" width="140" height="38" rx="7" fill="#f24822" stroke="#9e2c14" stroke-width="1.5"/><text class="W" x="1254" y="65">Automation</text></g>

<g id="raw-label"><rect class="lrl" x="1266" y="77" width="221" height="37" rx="7"/><text class="L" x="1276" y="104">Archive - Raw Data</text></g>
<g id="raw-n8n"><rect x="1274" y="138" width="97" height="38" rx="2" fill="#f24822"/><text class="tw" x="1322.5" y="160">n8n</text></g>
<g id="raw-cf-left"><rect class="task" x="1283" y="258" width="79" height="46" rx="2"/><path class="tl" d="M1288 258V304M1357 258V304"/><text class="tt" x="1322.5" y="275">2</text><text class="tt" x="1322.5" y="283">Create File</text><text class="tt" x="1322.5" y="292">Same File Name</text></g>
<g id="raw-mf-left"><rect class="task" x="1516" y="157" width="81" height="46" rx="2"/><path class="tl" d="M1521 157V203M1592 157V203"/><text class="tt" x="1556.5" y="173">1</text><text class="tt" x="1556.5" y="182">Move File</text><text class="tt" x="1556.5" y="191">to History</text></g>
<g id="raw-mf-right"><rect class="task" x="1826" y="157" width="79" height="46" rx="2"/><path class="tl" d="M1831 157V203M1900 157V203"/><text class="tt" x="1865.5" y="173">1</text><text class="tt" x="1865.5" y="182">Move File</text><text class="tt" x="1865.5" y="191">to History</text></g>
<g id="raw-up-left"><rect class="task" x="1516" y="358" width="81" height="46" rx="2"/><path class="tl" d="M1521 358V404M1592 358V404"/><text class="tt" x="1556.5" y="379">3</text><text class="tt" x="1556.5" y="388">Update File Name</text></g>
<g id="raw-cf-mid"><rect class="task" x="1672" y="358" width="79" height="46" rx="2"/><path class="tl" d="M1677 358V404M1746 358V404"/><text class="tt" x="1711.5" y="374">2</text><text class="tt" x="1711.5" y="383">Create File</text><text class="tt" x="1711.5" y="392">Same File Name</text></g>
<g id="raw-up-right"><rect class="task" x="1826" y="358" width="79" height="46" rx="2"/><path class="tl" d="M1831 358V404M1900 358V404"/><text class="tt" x="1865.5" y="379">3</text><text class="tt" x="1865.5" y="388">Update File Name</text></g>
<g id="raw-week-prese"><rect class="fd" x="1427" y="262" width="100" height="38" rx="2"/><rect class="lg" x="1426" y="266" width="96" height="37" rx="7"/><text class="L" x="1436" y="293">Prese...</text></g>
<g id="raw-week-hist"><rect class="fd" x="1567" y="262" width="97" height="38" rx="2"/><rect class="lg" x="1563" y="266" width="100" height="37" rx="7"/><text class="L" x="1572" y="293">Histor...</text></g>
<g id="raw-month-prese"><rect class="fd" x="1733" y="262" width="97" height="38" rx="2"/><rect class="lg" x="1727" y="266" width="96" height="37" rx="7"/><text class="L" x="1737" y="293">Prese...</text></g>
<g id="raw-month-hist"><rect class="fd" x="1869" y="262" width="97" height="38" rx="2"/><rect class="lg" x="1865" y="266" width="101" height="37" rx="7"/><text class="L" x="1874" y="293">Histor...</text></g>
<g id="raw-week-label"><rect class="lg" x="1414" y="253" width="78" height="34" rx="7"/><text class="L" x="1422" y="278">Week</text></g>
<g id="raw-month-label"><rect class="lg" x="1716" y="251" width="86" height="36" rx="7"/><text class="L" x="1724" y="278">Month</text></g>
<g id="raw-gd-label"><rect class="lgd" x="1391" y="216" width="154" height="36" rx="7"/><text class="L" x="1401" y="242">Google Drive</text></g>

<g id="rep-label"><rect class="lrl" x="1266" y="507" width="204" height="36" rx="7"/><text class="L" x="1276" y="533">Archive - Reports</text></g>
<g id="rep-n8n"><rect x="1274" y="568" width="97" height="38" rx="2" fill="#f24822"/><text class="tw" x="1322.5" y="590">n8n</text></g>
<g id="rep-cf-left"><rect class="task" x="1283" y="688" width="79" height="46" rx="2"/><path class="tl" d="M1288 688V734M1357 688V734"/><text class="tt" x="1322.5" y="705">2</text><text class="tt" x="1322.5" y="713">Create File</text><text class="tt" x="1322.5" y="722">Same File Name</text></g>
<g id="rep-mf-left"><rect class="task" x="1516" y="587" width="81" height="46" rx="2"/><path class="tl" d="M1521 587V633M1592 587V633"/><text class="tt" x="1556.5" y="603">1</text><text class="tt" x="1556.5" y="612">Move File</text><text class="tt" x="1556.5" y="621">to History</text></g>
<g id="rep-mf-right"><rect class="task" x="1826" y="587" width="79" height="46" rx="2"/><path class="tl" d="M1831 587V633M1900 587V633"/><text class="tt" x="1865.5" y="603">1</text><text class="tt" x="1865.5" y="612">Move File</text><text class="tt" x="1865.5" y="621">to History</text></g>
<g id="rep-up-left"><rect class="task" x="1516" y="788" width="81" height="46" rx="2"/><path class="tl" d="M1521 788V834M1592 788V834"/><text class="tt" x="1556.5" y="809">3</text><text class="tt" x="1556.5" y="818">Update File Name</text></g>
<g id="rep-cf-mid"><rect class="task" x="1672" y="788" width="79" height="46" rx="2"/><path class="tl" d="M1677 788V834M1746 788V834"/><text class="tt" x="1711.5" y="804">2</text><text class="tt" x="1711.5" y="813">Create File</text><text class="tt" x="1711.5" y="822">Same File Name</text></g>
<g id="rep-up-right"><rect class="task" x="1826" y="788" width="79" height="46" rx="2"/><path class="tl" d="M1831 788V834M1900 788V834"/><text class="tt" x="1865.5" y="809">3</text><text class="tt" x="1865.5" y="818">Update File Name</text></g>
<g id="rep-week-prese"><rect class="fd" x="1430" y="690" width="98" height="62" rx="2"/><rect class="lg" x="1426" y="695" width="96" height="36" rx="7"/><text class="L" x="1436" y="721">Prese...</text></g>
<g id="rep-week-hist"><rect class="fg" x="1567" y="690" width="97" height="62" rx="2"/><rect class="lg" x="1563" y="694" width="100" height="37" rx="7"/><text class="L" x="1572" y="721">Histor...</text></g>
<g id="rep-month-prese"><rect class="fd" x="1733" y="690" width="97" height="62" rx="2"/><rect class="lg" x="1727" y="695" width="96" height="36" rx="7"/><text class="L" x="1737" y="721">Prese...</text></g>
<g id="rep-month-hist"><rect class="fg" x="1869" y="690" width="97" height="62" rx="2"/><rect class="lg" x="1865" y="694" width="101" height="37" rx="7"/><text class="L" x="1874" y="721">Histor...</text></g>
<g id="rep-week-label"><rect class="lg" x="1414" y="681" width="78" height="37" rx="7"/><text class="L" x="1422" y="707">Week</text></g>
<g id="rep-month-label"><rect class="lg" x="1716" y="680" width="86" height="38" rx="7"/><text class="L" x="1724" y="707">Month</text></g>
<g id="rep-gd-label"><rect class="lgd" x="1391" y="646" width="154" height="36" rx="7"/><text class="L" x="1401" y="672">Google Drive</text></g>

<g id="report-label"><rect class="lrl" x="1269" y="935" width="90" height="37" rx="7"/><text class="L" x="1279" y="962">Report</text></g>
<g id="report-n8n"><rect x="1599" y="952" width="97" height="38" rx="2" fill="#f24822"/><text class="tw" x="1647.5" y="974">n8n</text></g>
<g id="gdocs-report-doc"><rect class="gr" x="1926" y="971" width="96" height="38" rx="2"/><text class="t7" x="1974" y="987" fill="#1d3a20">Google Docs</text><text class="t7" x="1974" y="1000" fill="#1d3a20">Report Document</text></g>
<g id="tr-left"><rect class="task" x="1405" y="1069" width="79" height="46" rx="2"/><path class="tl" d="M1410 1069V1115M1479 1069V1115"/><text class="tt" x="1444.5" y="1090">Transfer Data to</text><text class="tt" x="1444.5" y="1099">Template</text></g>
<g id="ai-left"><rect class="task" x="1405" y="1144" width="79" height="46" rx="2"/><path class="tl" d="M1410 1144V1190M1479 1144V1190"/><text class="tt" x="1444.5" y="1169">AI Prompt</text></g>
<g id="gemini-left"><rect class="gr" x="1396" y="1219" width="97" height="38" rx="2"/><text class="t7" x="1444.5" y="1241" fill="#1d3a20">Gemini</text></g>
<g id="tr-right"><rect class="task" x="1811" y="1069" width="79" height="46" rx="2"/><path class="tl" d="M1816 1069V1115M1885 1069V1115"/><text class="tt" x="1850.5" y="1090">Transfer Data to</text><text class="tt" x="1850.5" y="1099">Template</text></g>
<g id="ai-right"><rect class="task" x="1811" y="1138" width="79" height="46" rx="2"/><path class="tl" d="M1816 1138V1184M1885 1138V1184"/><text class="tt" x="1850.5" y="1163">AI Prompt</text></g>
<g id="gemini-right"><rect class="gr" x="1802" y="1219" width="97" height="38" rx="2"/><text class="t7" x="1850.5" y="1241" fill="#1d3a20">Gemini</text></g>
<g id="sheet-lw"><rect x="1542" y="1072" width="97" height="40" rx="2" fill="#cdf5d3" stroke="#66d17a" stroke-width="1.5"/><path d="M1548 1078V1112M1548 1078H1639" stroke="#66d17a" fill="none"/><text class="t7" x="1593" y="1097">Last Week</text></g>
<g id="sheet-lm"><rect x="1656" y="1072" width="97" height="40" rx="2" fill="#cdf5d3" stroke="#66d17a" stroke-width="1.5"/><path d="M1662 1078V1112M1662 1078H1753" stroke="#66d17a" fill="none"/><text class="t7" x="1707" y="1097">Last Month</text></g>
<g id="doc-lw"><path class="gr" d="M1542 1203H1620L1638 1219V1273H1542Z"/><text class="t7" x="1590" y="1234" fill="#1d3a20">Last Week Report</text><text class="t7" x="1590" y="1247" fill="#1d3a20">Template</text></g>
<g id="doc-lm"><path class="gr" d="M1656 1203H1734L1752 1219V1273H1656Z"/><path d="M1734 1203V1219H1752" fill="#9fe6a9"/><text class="t7" x="1704" y="1234" fill="#1d3a20">Last Month Report</text><text class="t7" x="1704" y="1247" fill="#1d3a20">Template</text></g>
<g id="report-gd-label"><rect class="lgd" x="1520" y="1022" width="154" height="36" rx="7"/><text class="L" x="1530" y="1048">Google Drive</text></g>
<g id="spreads-label"><rect class="lgl" x="1540" y="1057" width="204" height="36" rx="7"/><text class="L" x="1550" y="1083">Google Spreads...</text></g>
<g id="docs-label"><rect class="lgl" x="1540" y="1193" width="153" height="37" rx="7"/><text class="L" x="1550" y="1220">Google Docs</text></g>
</g>
</svg>
